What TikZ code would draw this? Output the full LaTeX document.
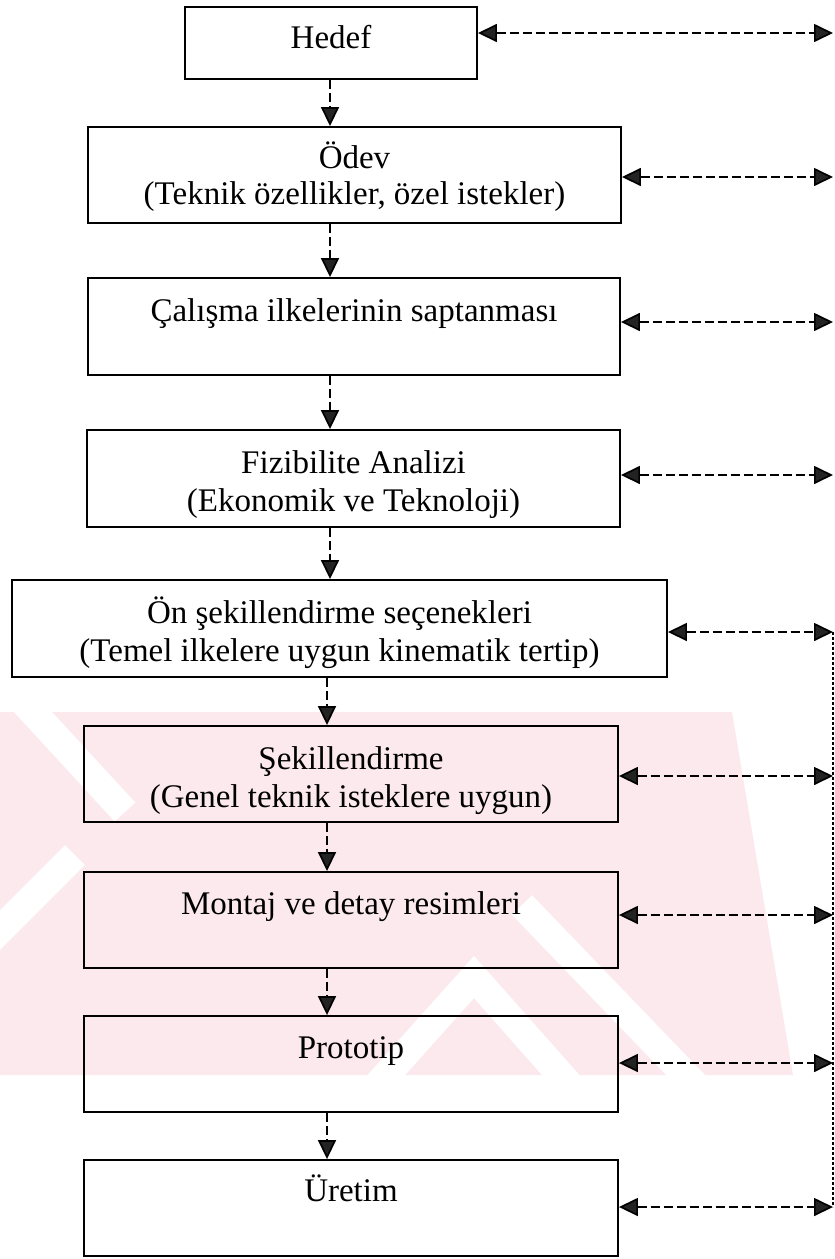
\documentclass[tikz,border=0pt]{standalone}
\usepackage{fontspec}
\setmainfont{Liberation Serif}
\usetikzlibrary{arrows.meta}
\definecolor{wm}{RGB}{252,233,238}
\definecolor{tipc}{RGB}{35,35,35}
\tikzset{
  box/.style={draw=black, line width=1.9pt, rectangle, inner sep=0pt},
  lbl/.style={font=\fontsize{33}{39}\selectfont, inner sep=0pt, anchor=base},
  flow/.style={line width=1.7pt, dash pattern=on 9pt off 4pt,
    -{Triangle[length=19pt,width=18pt,fill=tipc]}},
  both/.style={line width=1.7pt, dash pattern=on 9pt off 4pt,
    {Triangle[length=19pt,width=18pt,fill=tipc]}-{Triangle[length=19pt,width=18pt,fill=tipc]}},
  side/.style={line width=1.5pt, dash pattern=on 3pt off 2pt},
  wmcut/.style={draw=white, line width=28pt},
}
\begin{document}
\begin{tikzpicture}[x=1pt,y=-1pt]
\useasboundingbox (0,0) rectangle (835,1259);
% watermark
\begin{scope}
  \clip (0,712) rectangle (835,1075);
  \fill[wm] (0,712) -- (732,712) -- (793,1075) -- (0,1075) -- cycle;
  \draw[wmcut] (22,700) -- (125,812);
  \draw[wmcut] (-10,940) -- (75,855);
  \draw[wmcut] (373,1090) -- (474,977) -- (574,1090);
  \draw[wmcut] (522,905) -- (700,1090);
\end{scope}
% boxes
\node[box, minimum width=292pt, minimum height=72pt] (hedef) at (331,43) {};
\node[box, minimum width=533pt, minimum height=96pt] (odev) at (354.5,175) {};
\node[box, minimum width=532pt, minimum height=97pt] (cal) at (354,326.5) {};
\node[box, minimum width=533pt, minimum height=97pt] (fiz) at (353.5,478.5) {};
\node[box, minimum width=655pt, minimum height=97pt] (on) at (339.5,628.5) {};
\node[box, minimum width=534pt, minimum height=96pt] (sek) at (351,774) {};
\node[box, minimum width=534pt, minimum height=96pt] (mon) at (351,920) {};
\node[box, minimum width=534pt, minimum height=96pt] (pro) at (351,1064) {};
\node[box, minimum width=534pt, minimum height=96pt] (ure) at (351,1208) {};
% labels
\node[lbl] (tHedef) at (331,48) {Hedef};
\node[lbl] (tOdev1) at (354.5,168) {Ödev};
\node[lbl] (tOdev2) at (354.5,204) {(Teknik özellikler, özel istekler)};
\node[lbl] (tCal) at (354,321) {Çalışma ilkelerinin saptanması};
\node[lbl] (tFiz1) at (353.5,473) {Fizibilite Analizi};
\node[lbl] (tFiz2) at (353.5,511) {(Ekonomik ve Teknoloji)};
\node[lbl] (tOn1) at (339.5,623) {Ön şekillendirme seçenekleri};
\node[lbl] (tOn2) at (339.5,661) {(Temel ilkelere uygun kinematik tertip)};
\node[lbl] (tSek1) at (351,769) {Şekillendirme};
\node[lbl] (tSek2) at (351,807) {(Genel teknik isteklere uygun)};
\node[lbl] (tMon) at (351,914) {Montaj ve detay resimleri};
\node[lbl] (tPro) at (351,1058) {Prototip};
\node[lbl] (tUre) at (351,1201) {Üretim};
% axis coordinates for the vertical flow
\coordinate (ax1) at (330,0);
\coordinate (ax2) at (327,0);
% vertical flow arrows
\draw[flow] (hedef.south -| ax1) -- (odev.north -| ax1);
\draw[flow] (odev.south -| ax1) -- (cal.north -| ax1);
\draw[flow] (cal.south -| ax1) -- (fiz.north -| ax1);
\draw[flow] (fiz.south -| ax1) -- (on.north -| ax1);
\draw[flow] (on.south -| ax2) -- (sek.north -| ax2);
\draw[flow] (sek.south -| ax2) -- (mon.north -| ax2);
\draw[flow] (mon.south -| ax2) -- (pro.north -| ax2);
\draw[flow] (pro.south -| ax2) -- (ure.north -| ax2);
% right-hand ends
\coordinate (rHedef) at (833,33);
\coordinate (rOdev) at (833,177);
\coordinate (rCal) at (833,322);
\coordinate (rFiz) at (833,475);
\coordinate (rOn) at (833,632);
\coordinate (rSek) at (833,776);
\coordinate (rMon) at (833,915);
\coordinate (rPro) at (833,1063);
\coordinate (rUre) at (833,1207);
\draw[both] (hedef.east |- rHedef) -- (rHedef);
\draw[both] (odev.east |- rOdev) -- (rOdev);
\draw[both] (cal.east |- rCal) -- (rCal);
\draw[both] (fiz.east |- rFiz) -- (rFiz);
\draw[both] (on.east |- rOn) -- (rOn);
\draw[both] (sek.east |- rSek) -- (rSek);
\draw[both] (mon.east |- rMon) -- (rMon);
\draw[both] (pro.east |- rPro) -- (rPro);
\draw[both] (ure.east |- rUre) -- (rUre);
% right vertical dashed line
\draw[side] (rOn) -- (rUre);
\end{tikzpicture}
\end{document}
